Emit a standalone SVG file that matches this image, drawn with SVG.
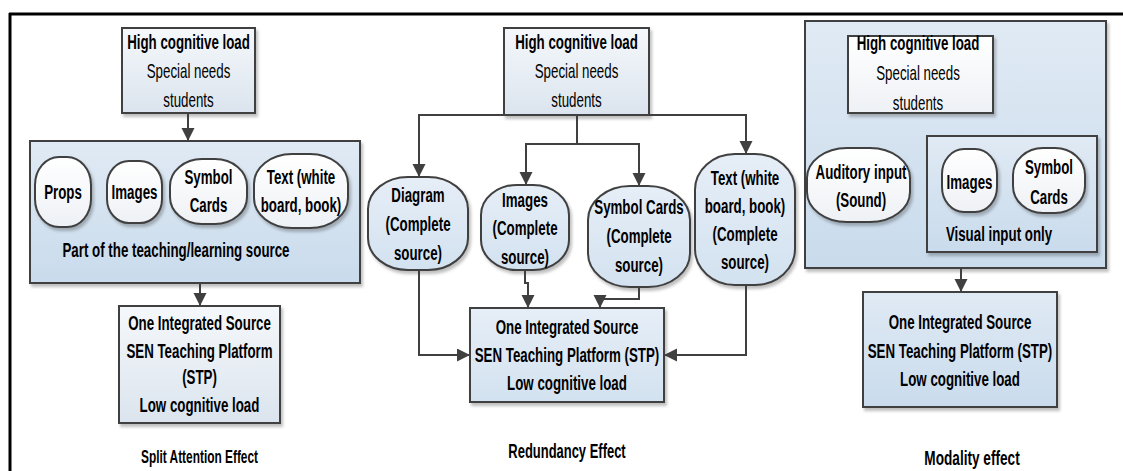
<svg xmlns="http://www.w3.org/2000/svg" width="1123" height="471" viewBox="0 0 1123 471">
<defs>
  <linearGradient id="gBox" x1="0" y1="0" x2="0" y2="1">
    <stop offset="0" stop-color="#f5f8fb"/>
    <stop offset="1" stop-color="#dbe4ee"/>
  </linearGradient>
  <linearGradient id="gBlue" x1="0" y1="0" x2="0" y2="1">
    <stop offset="0" stop-color="#e0eaf4"/>
    <stop offset="1" stop-color="#c9dbec"/>
  </linearGradient>
  <linearGradient id="gBlueL" x1="0" y1="0" x2="0" y2="1">
    <stop offset="0" stop-color="#e6eef7"/>
    <stop offset="1" stop-color="#d3e2f0"/>
  </linearGradient>
  <linearGradient id="gWhite" x1="0" y1="0" x2="0" y2="1">
    <stop offset="0" stop-color="#ffffff"/>
    <stop offset="1" stop-color="#eef1f5"/>
  </linearGradient>
  <filter id="sh" x="-10%" y="-10%" width="125%" height="125%">
    <feDropShadow dx="2" dy="3" stdDeviation="1.5" flood-color="#000" flood-opacity="0.25"/>
  </filter>
  <marker id="ah" markerUnits="userSpaceOnUse" markerWidth="12" markerHeight="14" refX="13" refY="6.5" orient="auto">
    <path d="M0,0 L13,6.5 L0,13 z" fill="#404040"/>
  </marker>
  <style>
    .s { stroke:#3f3f3f; stroke-width:2; filter:url(#sh); }
    .box { fill:url(#gBox); }
    .blue { fill:url(#gBlue); }
    .bluel { fill:url(#gBlueL); }
    .white { fill:url(#gWhite); }
    text { font-family:"Liberation Sans", Arial, sans-serif; font-size:20.5px; text-anchor:middle; fill:#000; }
    .b { font-weight:bold; }
    .c { fill:none; stroke:#404040; stroke-width:2; marker-end:url(#ah); }
  </style>
</defs>
<rect width="1123" height="471" fill="#fff"/>
<g id="frame">
  <line x1="9" y1="14" x2="1123" y2="14" stroke="#000" stroke-width="3"/>
  <line x1="10" y1="13" x2="10" y2="471" stroke="#000" stroke-width="3"/>
</g>

<!-- Panel 1: Split attention -->
<g id="p1-top">
  <rect class="s box" x="122" y="28" width="133" height="85"/>
  <text class="b" transform="translate(188.5,49) scale(.65,1)">High cognitive load</text>
  <text transform="translate(188.5,78) scale(.65,1)">Special needs</text>
  <text transform="translate(188.5,107) scale(.65,1)">students</text>
</g>
<g id="p1-sources">
  <rect class="s blue" x="30" y="141" width="330" height="142"/>
  <text class="b" transform="translate(176,257) scale(.65,1)">Part of the teaching/learning source</text>
</g>
<g id="p1-props">
  <rect class="s white" x="35" y="157" width="56" height="70" rx="24" ry="28"/>
  <text class="b" transform="translate(63,199) scale(.65,1)">Props</text>
</g>
<g id="p1-images">
  <rect class="s white" x="107" y="161" width="55" height="62" rx="22" ry="24"/>
  <text class="b" transform="translate(134.5,199) scale(.65,1)">Images</text>
</g>
<g id="p1-symbol">
  <rect class="s white" x="170" y="159" width="77" height="65" rx="32" ry="27"/>
  <text class="b" transform="translate(208.5,184) scale(.65,1)">Symbol</text>
  <text class="b" transform="translate(208.5,212) scale(.65,1)">Cards</text>
</g>
<g id="p1-text">
  <rect class="s white" x="254" y="154" width="94" height="74" rx="38" ry="30"/>
  <text class="b" transform="translate(301,184) scale(.65,1)">Text (white</text>
  <text class="b" transform="translate(301,212) scale(.65,1)">board, book)</text>
</g>
<g id="p1-integrated">
  <rect class="s box" x="119" y="306" width="161" height="117"/>
  <text class="b" transform="translate(199.5,330) scale(.65,1)">One Integrated Source</text>
  <text class="b" transform="translate(199.5,358) scale(.65,1)">SEN Teaching Platform</text>
  <text class="b" transform="translate(199.5,384) scale(.65,1)">(STP)</text>
  <text class="b" transform="translate(199.5,412) scale(.65,1)">Low cognitive load</text>
</g>
<g id="p1-label">
  <text class="b" style="font-size:18px" transform="translate(199.5,463) scale(.66,1)">Split Attention Effect</text>
</g>

<!-- Panel 2: Redundancy -->
<g id="p2-top">
  <rect class="s box" x="504" y="28" width="145" height="87"/>
  <text class="b" transform="translate(576.5,49) scale(.65,1)">High cognitive load</text>
  <text transform="translate(576.5,78) scale(.65,1)">Special needs</text>
  <text transform="translate(576.5,107) scale(.65,1)">students</text>
</g>
<g id="p2-diagram">
  <rect class="s bluel" x="368" y="177" width="100" height="93" rx="40" ry="32"/>
  <text class="b" transform="translate(418,202) scale(.65,1)">Diagram</text>
  <text class="b" transform="translate(418,231) scale(.65,1)">(Complete</text>
  <text class="b" transform="translate(418,260) scale(.65,1)">source)</text>
</g>
<g id="p2-images">
  <rect class="s bluel" x="481" y="185" width="88" height="85" rx="36" ry="30"/>
  <text class="b" transform="translate(525,207) scale(.65,1)">Images</text>
  <text class="b" transform="translate(525,235) scale(.65,1)">(Complete</text>
  <text class="b" transform="translate(525,264) scale(.65,1)">source)</text>
</g>
<g id="p2-symbol">
  <rect class="s bluel" x="588" y="186" width="102" height="101" rx="42" ry="34"/>
  <text class="b" transform="translate(639,214) scale(.65,1)">Symbol Cards</text>
  <text class="b" transform="translate(639,243) scale(.65,1)">(Complete</text>
  <text class="b" transform="translate(639,272) scale(.65,1)">source)</text>
</g>
<g id="p2-text">
  <rect class="s bluel" x="695" y="154" width="100" height="131" rx="40" ry="36"/>
  <text class="b" transform="translate(745,185) scale(.65,1)">Text (white</text>
  <text class="b" transform="translate(745,213) scale(.65,1)">board, book)</text>
  <text class="b" transform="translate(745,241) scale(.65,1)">(Complete</text>
  <text class="b" transform="translate(745,269) scale(.65,1)">source)</text>
</g>
<g id="p2-integrated">
  <rect class="s bluel" x="470" y="308" width="194" height="94"/>
  <text class="b" transform="translate(567,334) scale(.65,1)">One Integrated Source</text>
  <text class="b" transform="translate(567,362) scale(.65,1)">SEN Teaching Platform (STP)</text>
  <text class="b" transform="translate(567,390) scale(.65,1)">Low cognitive load</text>
</g>
<g id="p2-label">
  <text class="b" style="font-size:19.5px" transform="translate(567,458) scale(.665,1)">Redundancy Effect</text>
</g>

<!-- Panel 3: Modality -->
<g id="p3-container">
  <rect class="s blue" x="805" y="21" width="301" height="247"/>
</g>
<g id="p3-top">
  <rect class="s white" x="848" y="36" width="145" height="77"/>
  <text class="b" transform="translate(918,50) scale(.65,1)">High cognitive load</text>
  <text transform="translate(918,80) scale(.65,1)">Special needs</text>
  <text transform="translate(918,110) scale(.65,1)">students</text>
</g>
<g id="p3-auditory">
  <rect class="s white" x="807" y="148" width="103" height="74" rx="40" ry="30"/>
  <text class="b" transform="translate(861,179) scale(.65,1)">Auditory input</text>
  <text class="b" transform="translate(861,207) scale(.65,1)">(Sound)</text>
</g>
<g id="p3-visual">
  <rect class="s blue" x="927" y="136" width="170" height="116"/>
  <text class="b" transform="translate(999,241) scale(.65,1)">Visual input only</text>
</g>
<g id="p3-images">
  <rect class="s white" x="942" y="149" width="55" height="63" rx="22" ry="25"/>
  <text class="b" transform="translate(969.5,189) scale(.65,1)">Images</text>
</g>
<g id="p3-symbol">
  <rect class="s white" x="1013" y="148" width="72" height="65" rx="30" ry="27"/>
  <text class="b" transform="translate(1049,174) scale(.65,1)">Symbol</text>
  <text class="b" transform="translate(1049,204) scale(.65,1)">Cards</text>
</g>
<g id="p3-integrated">
  <rect class="s blue" x="863" y="292" width="194" height="115"/>
  <text class="b" transform="translate(960,329) scale(.65,1)">One Integrated Source</text>
  <text class="b" transform="translate(960,358) scale(.65,1)">SEN Teaching Platform (STP)</text>
  <text class="b" transform="translate(960,386) scale(.65,1)">Low cognitive load</text>
</g>
<g id="p3-label">
  <text class="b" style="font-size:20.5px" transform="translate(972,465) scale(.665,1)">Modality effect</text>
</g>

<g id="connectors">
  <path class="c" d="M188,113 V141"/>
  <path class="c" d="M200,283 V306"/>
  <path class="c" d="M577,115 H419 V177"/>
  <path class="c" d="M577,115 H746 V154"/>
  <path class="c" d="M577,115 V144 H526 V185"/>
  <path class="c" d="M577,144 H639 V186"/>
  <path class="c" d="M419,270 V355 H470"/>
  <path class="c" d="M525,270 V283 H528 V308"/>
  <path class="c" d="M639,287 V299 H600 V308"/>
  <path class="c" d="M746,285 V355 H664"/>
  <path class="c" d="M961,268 V292"/>
</g>
</svg>
